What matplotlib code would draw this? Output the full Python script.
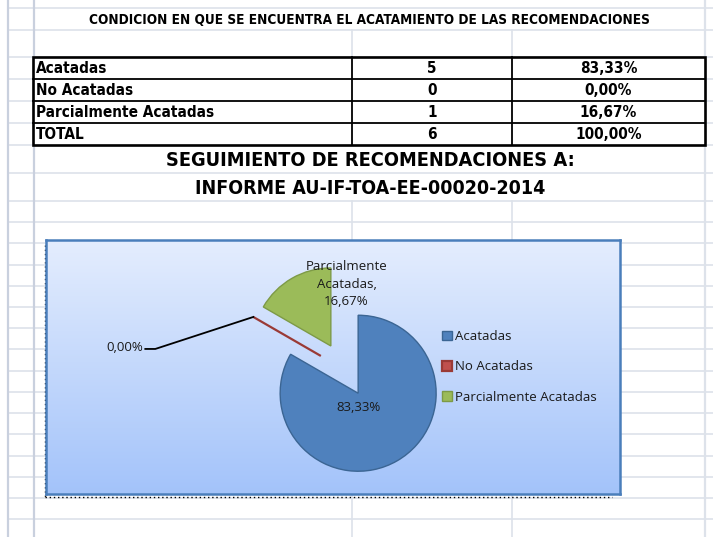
import numpy as np
import matplotlib
matplotlib.use("Agg")
import matplotlib.pyplot as plt
from matplotlib.patches import Rectangle

# datos de la tabla
categorias = ["Acatadas", "No Acatadas", "Parcialmente Acatadas"]
cantidades = [5, 0, 1]
porcentajes = ["83,33%", "0,00%", "16,67%"]
total_cantidad = 6
total_pct = "100,00%"

titulo_tabla = "CONDICION EN QUE SE ENCUENTRA EL ACATAMIENTO DE LAS RECOMENDACIONES"
titulo_1 = "SEGUIMIENTO DE RECOMENDACIONES A:"
titulo_2 = "INFORME AU-IF-TOA-EE-00020-2014"

colores = ["#4F81BD", "#C0504D", "#9BBB59"]
bordes = ["#3B6593", "#9A3A36", "#7D9A46"]

W, H = 713, 537
NARROW = dict(family=["DejaVu Sans"], fontstretch="condensed", fontweight="bold")
LABEL_FONT = ["Open Sans", "DejaVu Sans"]

fig = plt.figure(figsize=(W / 100, H / 100), dpi=100)
bg = fig.add_axes([0, 0, 1, 1])
bg.set_xlim(0, W)
bg.set_ylim(H, 0)
bg.axis("off")

# ---- cuadricula de la hoja ----
filas = [8, 30, 57, 79, 101, 123, 145, 173, 201, 222, 243, 265, 286, 307, 328,
         349, 371, 392, 413, 434, 456, 477, 498, 519]
grid_c = "#DDE2EA"
for y in filas:
    bg.plot([8, W], [y, y], color=grid_c, lw=1.2, zorder=1)
for x in [8, 34]:
    bg.plot([x, x], [0, H], color="#C9D0DE", lw=1.6, zorder=1)
for x in [352, 512]:
    bg.plot([x, x], [30, 145], color=grid_c, lw=1.2, zorder=1)
    bg.plot([x, x], [201, H], color=grid_c, lw=1.2, zorder=1)
bg.plot([705, 705], [0, H], color=grid_c, lw=1.6, zorder=1)

# ---- titulo y tabla ----
bg.text(369.5, 19.5, titulo_tabla, ha="center", va="center", fontsize=9.75,
        zorder=3, **NARROW)

x0, x1, x2, x3 = 33, 352, 512, 705
y_top, row_h = 57, 22
filas_tabla = list(zip(categorias, cantidades, porcentajes)) + [("TOTAL", total_cantidad, total_pct)]
n = len(filas_tabla)
bg.add_patch(Rectangle((x0, y_top), x3 - x0, n * row_h, facecolor="white",
                       edgecolor="black", lw=1.9, zorder=2))
for i in range(1, n):
    bg.plot([x0, x3], [y_top + i * row_h] * 2, color="black", lw=1.3, zorder=3)
for x in [x1, x2]:
    bg.plot([x, x], [y_top, y_top + n * row_h], color="black", lw=1.3, zorder=3)
for i, (cat, cant, pct) in enumerate(filas_tabla):
    yc = y_top + i * row_h + row_h / 2 + 0.5
    bg.text(x0 + 3, yc, cat, ha="left", va="center", fontsize=11, zorder=4, **NARROW)
    bg.text((x1 + x2) / 2, yc, str(cant), ha="center", va="center", fontsize=11,
            zorder=4, **NARROW)
    bg.text((x2 + x3) / 2, yc, pct, ha="center", va="center", fontsize=11,
            zorder=4, **NARROW)

bg.text(370, 161, titulo_1, ha="center", va="center", fontsize=14.3, zorder=3, **NARROW)
bg.text(370, 189, titulo_2, ha="center", va="center", fontsize=14.0, zorder=3, **NARROW)

# lineas punteadas de salto de pagina
bg.plot([45, 45], [245, 497], color="black", lw=1.0, ls=(0, (1, 2)), zorder=2)
bg.plot([45, 612], [497, 497], color="black", lw=1.0, ls=(0, (1, 2)), zorder=2)

# ---- grafico circular ----
cx0, cx1, cy0, cy1 = 46, 620, 240, 494
ax = fig.add_axes([cx0 / W, 1 - cy1 / H, (cx1 - cx0) / W, (cy1 - cy0) / H])
grad = np.linspace(0, 1, 256).reshape(-1, 1)
top = np.array([0.895, 0.93, 0.995])
bot = np.array([0.64, 0.765, 0.98])
img = top[None, None, :] * (1 - grad[:, :, None]) + bot[None, None, :] * grad[:, :, None]
ax.imshow(img, extent=(cx0, cx1, H - cy1, H - cy0), aspect="auto", zorder=0)

radio = 78
centro = (344.5, H - 369.6)
wedges, _ = ax.pie(cantidades, colors=colores, explode=[0.35 * radio] * 3, radius=radio,
                   center=centro, startangle=90, counterclock=False, frame=True,
                   wedgeprops=dict(linewidth=1.0))
for w, ec in zip(wedges, bordes):
    w.set_edgecolor(ec)
wedges[1].set_linewidth(1.6)

ax.set_xlim(cx0, cx1)
ax.set_ylim(H - cy1, H - cy0)
ax.set_xticks([])
ax.set_yticks([])
for s in ax.spines.values():
    s.set_color("#4A7EBB")
    s.set_linewidth(1.8)

# etiquetas de datos
cb = wedges[0].center
ax.text(cb[0], cb[1] - 0.18 * radio, porcentajes[0], ha="center", va="center",
        fontsize=9.5, family=LABEL_FONT, color="#1a1a1a")
cg = wedges[2].center
ax.text(cg[0] + 0.2 * radio, cg[1] + 0.79 * radio,
        "Parcialmente\nAcatadas,\n" + porcentajes[2], ha="center", va="center",
        fontsize=9.5, family=LABEL_FONT, color="#1a1a1a", linespacing=1.45)
cr = wedges[1].center
ang = np.deg2rad(wedges[1].theta1)
tip = (cr[0] + radio * np.cos(ang), cr[1] + radio * np.sin(ang))
codo = (tip[0] - 98, tip[1] - 32)
fin = (codo[0] - 10, codo[1])
ax.plot([tip[0], codo[0], fin[0]], [tip[1], codo[1], fin[1]], color="black", lw=1.3)
ax.text(fin[0] - 2, fin[1] + 1, porcentajes[1], ha="right", va="center",
        fontsize=9.5, family=LABEL_FONT, color="#1a1a1a")

leg = ax.legend(wedges, categorias, loc="center left",
                bbox_to_anchor=((442 - cx0) / (cx1 - cx0), 0.5), frameon=False,
                borderpad=0, borderaxespad=0, handlelength=0.75, handleheight=0.75,
                handletextpad=0.25, labelspacing=1.32,
                prop=dict(family=LABEL_FONT, size=9.5))
for t in leg.get_texts():
    t.set_color("#1a1a1a")

fig.savefig("out.png", dpi=100)
